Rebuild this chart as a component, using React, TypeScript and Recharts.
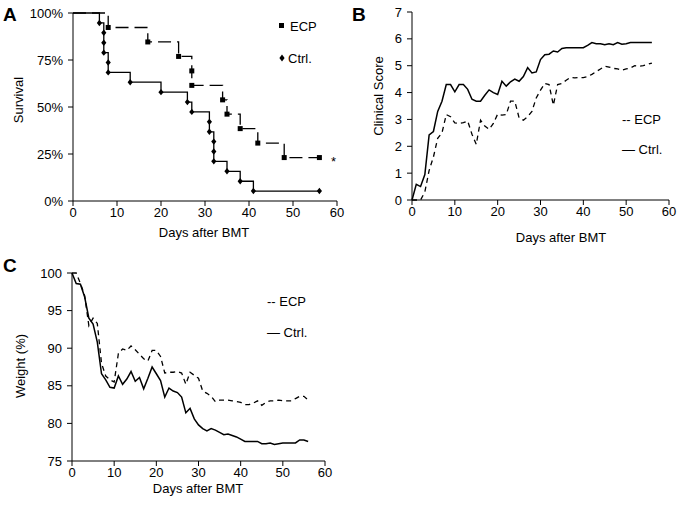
import React from 'react'
import { LineChart, Line, XAxis, YAxis } from 'recharts'

// Panel A: Kaplan-Meier survival (step points)
const survDaysEcp = [0, 8, 17, 24, 27, 27, 34, 35, 38, 42, 48, 56]
const survEcp = [100, 92.3, 84.6, 76.9, 69.2, 61.5, 53.8, 46.2, 38.5, 30.8, 23.1, 23.1]
const survDaysCtrl = [0, 6, 7, 7, 7, 8, 8, 13, 20, 26, 27, 31, 31, 32, 32, 32, 35, 38, 41, 56]
const survCtrl = [100, 94.7, 89.5, 84.2, 78.9, 73.7, 68.4, 63.2, 57.9, 52.6, 47.4, 42.1, 36.8, 31.6, 26.3, 21.1, 15.8, 10.5, 5.3, 5.3]
const survTicks = [0, 25, 50, 75, 100]

// Panel B: clinical score, day 0..56
const scoreEcp = [
  0, 0, 0, 0.3, 1.1, 1.6, 2.3, 2.5, 3.18, 3.1,
  2.87, 2.85, 2.88, 2.94, 2.45, 2.07, 2.97, 2.75, 2.63, 2.85,
  3.2, 3.16, 3.18, 3.68, 3.68, 3.06, 2.97, 3.1, 3.3, 3.8,
  4.09, 4.34, 4.3, 3.53, 4.3, 4.34, 4.46, 4.56, 4.55, 4.56,
  4.56, 4.6, 4.68, 4.78, 4.88, 4.98, 4.95, 4.9, 4.88, 4.83,
  4.88, 4.92, 5.0, 4.98, 5.0, 5.05, 5.1,
]
const scoreCtrl = [
  0, 0.58, 0.5, 0.95, 2.42, 2.55, 3.3, 3.68, 4.3, 4.3,
  4.03, 4.3, 4.3, 4.12, 3.75, 3.68, 3.68, 3.9, 4.1, 4.0,
  3.93, 4.42, 4.24, 4.4, 4.5, 4.42, 4.6, 4.93, 4.73, 4.77,
  5.23, 5.41, 5.43, 5.55, 5.51, 5.64, 5.67, 5.67, 5.67, 5.67,
  5.67, 5.76, 5.86, 5.82, 5.82, 5.78, 5.82, 5.78, 5.86, 5.8,
  5.82, 5.86, 5.86, 5.86, 5.86, 5.86, 5.86,
]
const scoreTicks = [0, 1, 2, 3, 4, 5, 6, 7]

// Panel C: weight (%), day 0..56
const weightEcp = [
  100, 100, 98.6, 97.0, 93.0, 94.0, 93.3, 88.0, 86.3, 85.8,
  85.5, 89.3, 89.9, 89.7, 90.3, 89.8, 89.2, 88.6, 88.3, 89.7,
  89.7, 88.9, 86.7, 86.8, 86.8, 86.9, 86.7, 85.2, 86.8, 86.4,
  86.0, 84.3, 84.0, 83.6, 82.9, 83.1, 83.1, 83.1, 83.0, 82.9,
  82.8, 82.5, 82.5, 82.7, 83.0, 82.4, 82.8, 83.0, 83.0, 83.1,
  83.0, 83.0, 83.0, 83.3, 83.6, 83.6, 83.1,
]
const weightCtrl = [
  100, 98.6, 98.5, 96.8, 94.0, 93.2, 90.8, 86.6, 85.8, 84.8,
  84.7, 86.3, 85.2, 85.9, 86.9, 85.6, 86.1, 84.6, 86.0, 87.5,
  86.6, 85.7, 83.5, 84.7, 84.3, 84.1, 83.5, 81.4, 82.0, 80.6,
  79.8, 79.3, 79.0, 79.3, 79.1, 78.8, 78.5, 78.6, 78.4, 78.2,
  77.9, 77.6, 77.6, 77.6, 77.6, 77.3, 77.3, 77.4, 77.2, 77.3,
  77.4, 77.4, 77.4, 77.4, 77.8, 77.8, 77.6,
]
const weightTicks = [75, 80, 85, 90, 95, 100]

const dayTicks = [0, 10, 20, 30, 40, 50, 60]

const FONT = '"Liberation Sans", Arial, sans-serif'
const tickStyle = { fill: '#000', fontSize: 13, fontFamily: FONT }
const axisLine = { stroke: '#000', strokeWidth: 1 }

const ecpSurv = survDaysEcp.map((day, i) => ({ day, value: survEcp[i] }))
const ctrlSurv = survDaysCtrl.map((day, i) => ({ day, value: survCtrl[i] }))
const scoreData = scoreEcp.map((v, i) => ({ day: i, ecp: v, ctrl: scoreCtrl[i] }))
const weightData = weightEcp.map((v, i) => ({ day: i, ecp: v, ctrl: weightCtrl[i] }))

function SquareDot(props: any) {
  const { cx, cy, index } = props
  if (index === 0 || cx == null) return <g key={'s' + index} />
  return <rect key={'s' + index} x={cx - 2.5} y={cy - 2.5} width={5} height={5} fill="#000" />
}

function DiamondDot(props: any) {
  const { cx, cy, index } = props
  if (index === 0 || cx == null) return <g key={'d' + index} />
  return (
    <path
      key={'d' + index}
      d={`M${cx},${cy - 3.2} L${cx + 2.6},${cy} L${cx},${cy + 3.2} L${cx - 2.6},${cy} Z`}
      fill="#000"
    />
  )
}

function Text({ x, y, children, size = 13, bold = false, rotate = false }: {
  x: number
  y: number
  children: React.ReactNode
  size?: number
  bold?: boolean
  rotate?: boolean
}) {
  return (
    <div style={{
      position: 'absolute',
      left: x,
      top: y,
      transform: rotate ? 'translate(-50%, -50%) rotate(-90deg)' : 'translate(0, -50%)',
      fontFamily: FONT,
      fontSize: size,
      fontWeight: bold ? 700 : 400,
      whiteSpace: 'nowrap',
      lineHeight: 1,
      color: '#000',
    }}>
      {children}
    </div>
  )
}

function Centered({ x, y, children }: { x: number; y: number; children: React.ReactNode }) {
  return (
    <div style={{
      position: 'absolute',
      left: x,
      top: y,
      transform: 'translate(-50%, -50%)',
      fontFamily: FONT,
      fontSize: 13,
      whiteSpace: 'nowrap',
      lineHeight: 1,
      color: '#000',
    }}>
      {children}
    </div>
  )
}

export default function App() {
  return (
    <div style={{ position: 'absolute', left: 0, top: 0, width: 678, height: 506, background: '#fff', overflow: 'hidden' }}>
      {/* A: survival */}
      <div style={{ position: 'absolute', left: 0, top: 0 }}>
        <LineChart width={345} height={240} margin={{ top: 13, right: 8, bottom: 0, left: 0 }}>
          <XAxis
            type="number"
            dataKey="day"
            domain={[0, 60]}
            ticks={dayTicks}
            height={39}
            tickSize={5}
            tickMargin={2}
            tick={tickStyle}
            axisLine={axisLine}
            tickLine={axisLine}
            allowDuplicatedCategory={false}
          />
          <YAxis
            type="number"
            domain={[0, 100]}
            ticks={survTicks}
            width={73}
            tickSize={5}
            tickMargin={5}
            tick={tickStyle}
            tickFormatter={(v) => `${v}%`}
            axisLine={axisLine}
            tickLine={axisLine}
          />
          <Line
            data={ecpSurv}
            dataKey="value"
            type="stepAfter"
            stroke="#000"
            strokeWidth={1.3}
            strokeDasharray="13 6"
            dot={SquareDot}
            activeDot={false}
            isAnimationActive={false}
          />
          <Line
            data={ctrlSurv}
            dataKey="value"
            type="stepAfter"
            stroke="#000"
            strokeWidth={1.3}
            dot={DiamondDot}
            activeDot={false}
            isAnimationActive={false}
          />
        </LineChart>
      </div>

      {/* B: clinical score */}
      <div style={{ position: 'absolute', left: 340, top: 0 }}>
        <LineChart width={338} height={240} data={scoreData} margin={{ top: 12, right: 9, bottom: 0, left: 0 }}>
          <XAxis
            type="number"
            dataKey="day"
            domain={[0, 60]}
            ticks={dayTicks}
            height={40}
            tickSize={5}
            tickMargin={2}
            tick={tickStyle}
            axisLine={axisLine}
            tickLine={axisLine}
          />
          <YAxis
            type="number"
            domain={[0, 7]}
            ticks={scoreTicks}
            width={72}
            tickSize={5}
            tickMargin={5}
            tick={tickStyle}
            axisLine={axisLine}
            tickLine={axisLine}
          />
          <Line dataKey="ecp" type="linear" stroke="#000" strokeWidth={1.3} strokeDasharray="5 4" dot={false} activeDot={false} isAnimationActive={false} />
          <Line dataKey="ctrl" type="linear" stroke="#000" strokeWidth={1.5} dot={false} activeDot={false} isAnimationActive={false} />
        </LineChart>
      </div>

      {/* C: weight */}
      <div style={{ position: 'absolute', left: 0, top: 240 }}>
        <LineChart width={340} height={266} data={weightData} margin={{ top: 33, right: 15, bottom: 0, left: 0 }}>
          <XAxis
            type="number"
            dataKey="day"
            domain={[0, 60]}
            ticks={dayTicks}
            height={45}
            tickSize={5}
            tickMargin={2}
            tick={tickStyle}
            axisLine={axisLine}
            tickLine={axisLine}
          />
          <YAxis
            type="number"
            domain={[75, 100]}
            ticks={weightTicks}
            width={72}
            tickSize={5}
            tickMargin={5}
            tick={tickStyle}
            axisLine={axisLine}
            tickLine={axisLine}
          />
          <Line dataKey="ecp" type="linear" stroke="#000" strokeWidth={1.3} strokeDasharray="5 4" dot={false} activeDot={false} isAnimationActive={false} />
          <Line dataKey="ctrl" type="linear" stroke="#000" strokeWidth={1.5} dot={false} activeDot={false} isAnimationActive={false} />
        </LineChart>
      </div>

      {/* panel letters */}
      <Text x={3} y={14} size={19} bold>A</Text>
      <Text x={352} y={14} size={19} bold>B</Text>
      <Text x={3} y={265} size={19} bold>C</Text>

      {/* axis titles */}
      <Centered x={204} y={232}>Days after BMT</Centered>
      <Centered x={561} y={237}>Days after BMT</Centered>
      <Centered x={198} y={488}>Days after BMT</Centered>
      <Text x={18} y={100} rotate>Survival</Text>
      <Text x={378} y={96} rotate>Clinical Score</Text>
      <Text x={20} y={366} rotate>Weight (%)</Text>

      {/* legend A */}
      <div style={{ position: 'absolute', left: 279, top: 23, width: 5, height: 5, background: '#000' }} />
      <Text x={290} y={26}>ECP</Text>
      <svg style={{ position: 'absolute', left: 278, top: 54 }} width={8} height={8}>
        <path d="M4,0.5 L6.6,4 L4,7.5 L1.4,4 Z" fill="#000" />
      </svg>
      <Text x={288} y={58}>Ctrl.</Text>
      <Text x={331} y={161}>*</Text>

      {/* legend B */}
      <Text x={622} y={119}>-- ECP</Text>
      <Text x={622} y={149}>— Ctrl.</Text>

      {/* legend C */}
      <Text x={267} y={301}>-- ECP</Text>
      <Text x={267} y={332}>— Ctrl.</Text>
    </div>
  )
}
